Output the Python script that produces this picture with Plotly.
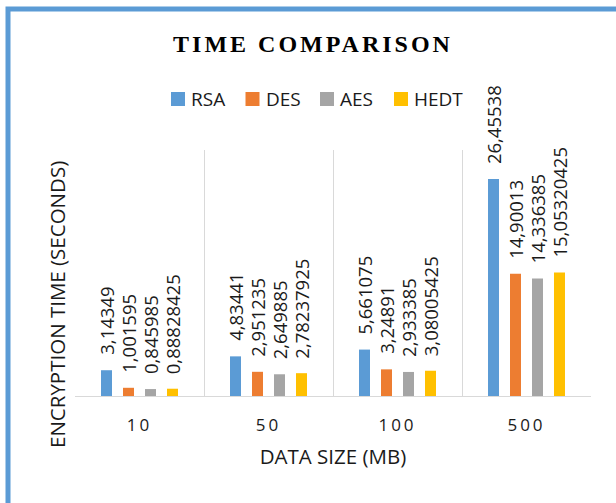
import plotly.graph_objects as go

# Encryption time (seconds) per data size, for each algorithm
data_sizes = ["10", "50", "100", "500"]
rsa = [3.14349, 4.83441, 5.661075, 26.45538]
des = [1.001595, 2.951235, 3.24891, 14.90013]
aes = [0.845985, 2.649885, 2.933385, 14.336385]
hedt = [0.88828425, 2.78237925, 3.08005425, 15.05320425]

series_names = ["RSA", "DES", "AES", "HEDT"]
series_values = [rsa, des, aes, hedt]
series_colors = ["#5B9BD5", "#ED7D31", "#A5A5A5", "#FFC000"]

W, H = 616, 503
M_L, M_R, M_T, M_B = 75, 25, 150, 107
PLOT_W = W - M_L - M_R
PLOT_H = H - M_T - M_B

BARGAP = 0.318
BARGROUPGAP = 0.5
cat_px = PLOT_W / len(data_sizes)
slot_px = cat_px * (1 - BARGAP) / len(series_names)


def px_x(px):
    """pixel column -> paper x"""
    return (px - M_L) / PLOT_W


def px_y(px):
    """pixel row -> paper y"""
    return (M_T + PLOT_H - px) / PLOT_H


fig = go.Figure()
for name, vals, color in zip(series_names, series_values, series_colors):
    fig.add_trace(go.Bar(
        name=name, x=data_sizes, y=vals,
        marker=dict(color=color, line=dict(width=0)),
        showlegend=False,
    ))

# value labels, rotated, above each bar (x given as category index)
annotations = []
for i, vals in enumerate(series_values):
    shift = (i - (len(series_names) - 1) / 2) * slot_px
    for j, v in enumerate(vals):
        annotations.append(dict(
            x=j, y=v, xref="x", yref="y",
            text=str(v).replace(".", ","),
            textangle=-90, showarrow=False,
            xanchor="center", yanchor="bottom",
            xshift=shift, yshift=13,
            font=dict(family="Open Sans", size=18.5, color="#1a1a1a"),
        ))

# y axis title
annotations.append(dict(
    text="ENCRYPTION TIME (SECONDS)",
    xref="paper", yref="paper",
    x=px_x(57), y=px_y(305),
    xanchor="center", yanchor="middle", textangle=-90, showarrow=False,
    font=dict(family="Open Sans", size=20.5, color="#1a1a1a"),
))

shapes = []

# legend: colour key squares with names, in one row above the plot
legend_left = [171, 245.5, 320, 394]
legend_sq = 14
legend_cy = 99
for left, name, color in zip(legend_left, series_names, series_colors):
    shapes.append(dict(
        type="rect", xref="paper", yref="paper",
        x0=px_x(left), x1=px_x(left + legend_sq),
        y0=px_y(legend_cy + legend_sq / 2), y1=px_y(legend_cy - legend_sq / 2),
        line=dict(width=0), fillcolor=color,
    ))
    annotations.append(dict(
        text=name, xref="paper", yref="paper",
        x=px_x(left + legend_sq + 4), y=px_y(legend_cy),
        xanchor="left", yanchor="middle", showarrow=False,
        font=dict(family="Open Sans", size=19, color="#1a1a1a"),
    ))

# outer blue frame
shapes.append(dict(
    type="rect", xref="paper", yref="paper",
    x0=px_x(8), x1=px_x(W + 40),
    y0=px_y(H + 40), y1=px_y(9),
    line=dict(color="#5B9BD5", width=5), fillcolor="rgba(0,0,0,0)",
))

fig.update_layout(
    width=W, height=H,
    margin=dict(l=M_L, r=M_R, t=M_T, b=M_B, pad=0),
    paper_bgcolor="white", plot_bgcolor="white",
    barmode="group", bargap=BARGAP, bargroupgap=BARGROUPGAP,
    showlegend=False,
    title=dict(
        text="<b>TIME COMPARISON</b>",
        font=dict(family="Liberation Serif", size=24, color="#000000"),
        x=313 / W, xanchor="center", xref="container",
        y=1 - 44 / H, yanchor="middle", yref="container",
    ),
    xaxis=dict(
        type="category", categoryorder="array", categoryarray=data_sizes,
        range=[-0.5, len(data_sizes) - 0.5], tickson="boundaries",
        showgrid=True, gridcolor="#D9D9D9", gridwidth=1,
        showline=True, linecolor="#D9D9D9", linewidth=1,
        ticks="", ticklabelstandoff=14,
        tickfont=dict(family="Open Sans", size=17, color="#1a1a1a"),
        title=dict(text="DATA SIZE (MB)", standoff=14,
                   font=dict(family="Open Sans", size=20.5, color="#1a1a1a")),
    ),
    yaxis=dict(
        range=[0, 30], showgrid=False, zeroline=False,
        showticklabels=False, ticks="", showline=False,
    ),
    annotations=annotations,
    shapes=shapes,
)

letter_spacing_js = (
    "var gd=document.getElementById('{plot_id}');"
    "gd.querySelectorAll('.gtitle').forEach(function(t){t.style.letterSpacing='3px';});"
    "gd.querySelectorAll('.xtick text').forEach(function(t){t.style.letterSpacing='3px';});"
)

fig.write_html("out.html", post_script=letter_spacing_js)
